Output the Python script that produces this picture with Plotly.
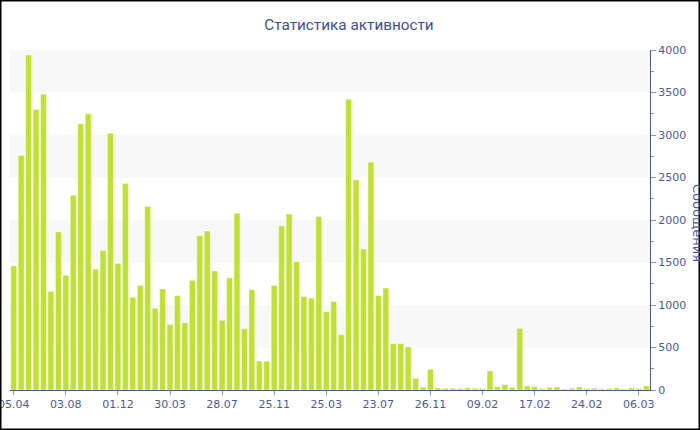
import plotly.graph_objects as go

# ---- data ----
messages = [
    1460, 2760, 3940, 3300, 3480, 1160, 1860, 1350, 2290, 3130,
    3250, 1420, 1640, 3020, 1490, 2430, 1090, 1230, 2160, 960,
    1190, 770, 1110, 790, 1290, 1815, 1870, 1400, 820, 1320,
    2080, 720, 1180, 341, 337, 1230, 1930, 2070, 1510, 1100,
    1080, 2040, 920, 1040, 650, 3420, 2470, 1660, 2680, 1110,
    1200, 545, 545, 506, 137, 33, 243, 24, 20, 20,
    16, 24, 20, 16, 224, 39, 63, 31, 725, 47,
    39, 16, 29, 35, 12, 20, 35, 16, 20, 12,
    16, 24, 12, 24, 16, 47,
]
periods = list(range(len(messages)))
tick_labels = ['05.04', '03.08', '01.12', '30.03', '28.07', '25.11', '25.03',
               '23.07', '26.11', '09.02', '17.02', '24.02', '06.03']
tick_step = 7
title_text = 'Статистика активности'
y_title = 'Сообщения'

# ---- layout constants ----
W, H = 700, 430
ML, MR, MT, MB = 10, 50, 50, 40
PW, PH = W - ML - MR, H - MT - MB
FONT = 'DejaVu Sans'
BLUE = '#4a5a9e'

fig = go.Figure()
fig.add_trace(go.Bar(
    x=periods, y=messages,
    marker=dict(color='#bee22e', line=dict(color='rgba(255,255,255,0.35)', width=1)),
    hoverinfo='y',
))

# alternating bands
shapes = []
for lo in range(500, 4000, 1000):
    shapes.append(dict(type='rect', xref='paper', yref='y', x0=0, x1=1,
                       y0=lo, y1=lo + 500, fillcolor='#f8f8f8',
                       line=dict(width=0), layer='below'))
# outer frame (pixel edges converted to paper units)
shapes.append(dict(type='rect', xref='paper', yref='paper',
                   x0=(0.5 - ML) / PW, x1=(W - 0.5 - ML) / PW,
                   y0=-(H - 0.5 - (MT + PH)) / PH, y1=(MT + PH - 0.5) / PH,
                   line=dict(color='black', width=2), fillcolor='rgba(0,0,0,0)',
                   layer='above'))

fig.update_layout(
    width=W, height=H,
    margin=dict(l=ML, r=MR, t=MT, b=MB, autoexpand=False),
    paper_bgcolor='white', plot_bgcolor='white',
    showlegend=False,
    bargap=0.22,
    font=dict(family=FONT, color=BLUE, size=11),
    title=dict(text=title_text, x=(349 - ML) / PW, xref='paper', xanchor='center',
               y=1 - 25 / H, yanchor='middle',
               font=dict(family='Roboto', size=15.3, color='#3d4f9e')),
    shapes=shapes,
    xaxis=dict(
        range=[-0.5, len(messages) - 0.5],
        tickmode='array',
        tickvals=periods[::tick_step],
        ticktext=tick_labels,
        ticks='outside', ticklen=4, tickcolor='#8a94b8',
        ticklabeloverflow='allow',
        automargin=False,
        showline=True, linecolor='#4a5a9e', linewidth=1,
        showgrid=False, zeroline=False,
        tickfont=dict(family=FONT, size=11, color=BLUE),
        fixedrange=True,
    ),
    yaxis=dict(
        side='right',
        range=[0, 4000],
        dtick=500,
        ticks='outside', ticklen=5, tickcolor='#8a94b8',
        minor=dict(ticks='outside', ticklen=3, dtick=250, tickcolor='#8a94b8'),
        automargin=False,
        showline=True, linecolor='#4a5a9e', linewidth=1,
        showgrid=False, zeroline=False,
        tickfont=dict(family=FONT, size=11, color=BLUE),
        fixedrange=True,
    ),
    annotations=[dict(
        text=y_title, textangle=90, showarrow=False,
        xref='paper', yref='paper',
        x=(698 - ML) / PW, y=(MT + PH - 223) / PH,
        xanchor='center', yanchor='middle',
        font=dict(family=FONT, size=13, color=BLUE),
    )],
)

fig.write_html('out.html', config={'displayModeBar': False},
               post_script="document.body.style.margin='0';")
